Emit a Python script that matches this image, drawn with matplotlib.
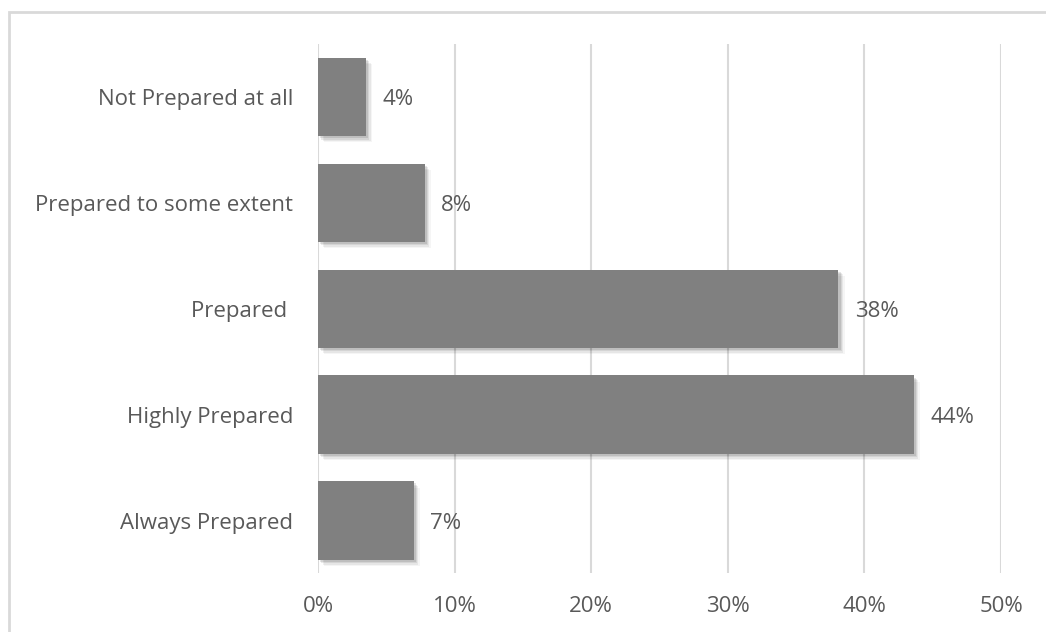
import matplotlib
matplotlib.use("Agg")
import matplotlib.pyplot as plt
import matplotlib.patheffects as pe
from matplotlib.patches import Rectangle
from matplotlib.ticker import FuncFormatter

# ---------- Data ----------
categories = [
    "Not Prepared at all",
    "Prepared to some extent",
    "Prepared ",
    "Highly Prepared",
    "Always Prepared",
]
shares = [3.5, 7.8, 38.1, 43.6, 7.0]          # percent
share_labels = ["4%", "8%", "38%", "44%", "7%"]
x_ticks = [0, 10, 20, 30, 40, 50]

# ---------- Style ----------
BAR = "#808080"
TEXT = "#595959"
GRID = "#d9d9d9"
FS = 16

plt.rcParams["font.family"] = ["Open Sans", "DejaVu Sans"]

fig = plt.figure(figsize=(10.46, 6.32), dpi=100)
ax = fig.add_axes([0.304, 0.0926, 0.653, 0.8378])

# soft drop shadow: a few stacked offsets to fake the blur
shadow = [
    pe.SimplePatchShadow(offset=(o, -o), shadow_rgbFace="#000000", alpha=a)
    for o, a in ((1.5, 0.10), (2.5, 0.08), (3.5, 0.06), (4.5, 0.04))
] + [pe.Normal()]

ypos = range(len(categories))
bars = ax.barh(ypos, shares, height=0.74, color=BAR, zorder=3)
for b in bars:
    b.set_path_effects(shadow)

for y, v, lab in zip(ypos, shares, share_labels):
    ax.annotate(lab, (v, y), xytext=(12, -2), textcoords="offset points",
                ha="left", va="center", fontsize=FS, color=TEXT)

ax.set_xlim(0, 50)
ax.set_ylim(4.5, -0.5)
ax.set_yticks(list(ypos))
ax.set_yticklabels(categories)
ax.set_xticks(x_ticks)
ax.xaxis.set_major_formatter(FuncFormatter(lambda v, _: f"{v:.0f}%"))

ax.tick_params(axis="both", length=0, labelsize=FS, labelcolor=TEXT)
ax.tick_params(axis="y", pad=18)
ax.tick_params(axis="x", pad=16)
ax.grid(axis="x", color=GRID, linewidth=1.5, zorder=0)
ax.set_axisbelow(True)
for s in ax.spines.values():
    s.set_visible(False)

# chart-area border (runs off the right and bottom edges in the original)
fig.patches.append(Rectangle((9 / 1046, -0.1), 1.2, 1.1 - 12 / 632,
                             transform=fig.transFigure, fill=False,
                             edgecolor=GRID, linewidth=2))

fig.savefig("out.png", dpi=100, facecolor="white")
